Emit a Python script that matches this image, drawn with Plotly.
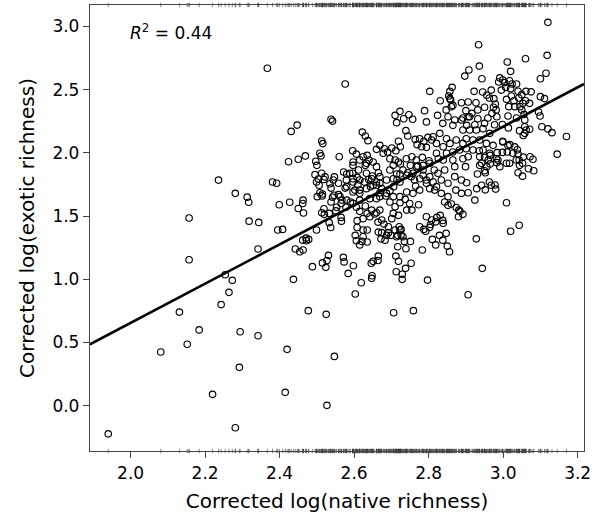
import plotly.graph_objects as go

# ---- data ----
# Sparse low / left outliers
xa = [1.94, 2.081, 2.131, 2.152, 2.157, 2.157, 2.184, 2.22, 2.236, 2.243, 2.254, 2.264, 2.273,
      2.281, 2.281, 2.292, 2.294, 2.313, 2.317, 2.318, 2.342, 2.342, 2.344, 2.367, 2.381, 2.392,
      2.395, 2.399, 2.408, 2.415, 2.42, 2.424, 2.427, 2.431, 2.437, 2.442, 2.447, 2.45, 2.45]
ya = [-0.222, 0.425, 0.741, 0.486, 1.155, 1.485, 0.60, 0.09, 1.785, 0.80, 1.036, 0.897, 0.992,
      -0.174, 1.68, 0.304, 0.585, 1.65, 1.61, 1.46, 0.554, 1.24, 1.45, 2.67, 1.77, 1.76,
      1.39, 1.59, 1.395, 0.106, 0.446, 1.93, 1.61, 2.17, 1.0, 1.24, 2.22, 1.95, 1.56]

# Lower part of the cloud
xb = [2.463, 2.463, 2.462, 2.472, 2.478, 2.499, 2.488, 2.515, 2.524, 2.531, 2.571, 2.584, 2.598,
      2.619, 2.603, 2.646, 2.651, 2.647, 2.648, 2.713, 2.729, 2.738, 2.753, 2.797, 2.944, 2.906,
      2.477, 2.525, 2.706, 2.759, 2.547, 2.527,
      2.603, 2.606, 2.621, 2.635, 2.624, 2.665, 2.672, 2.687, 2.683, 2.692, 2.699, 2.71, 2.726,
      2.726, 2.717, 2.751, 2.717, 2.739, 2.712, 2.729, 2.783, 2.81, 2.608, 2.624, 2.635, 2.665,
      2.674, 2.68, 2.692, 2.721, 2.735, 2.776, 2.787, 2.794, 2.808, 2.773,
      2.527, 2.573, 2.615, 2.664, 2.719, 2.856, 2.819, 2.838, 2.792, 2.805, 2.819, 2.838, 2.892,
      2.852, 2.874,
      2.85, 2.829, 2.847, 2.928, 2.831, 2.822, 2.843, 2.861, 2.884, 2.881, 3.009, 3.043, 3.02,
      2.839, 2.714, 2.731, 2.723, 2.88, 2.803]
yb = [1.627, 1.232, 1.31, 1.305, 1.316, 1.39, 1.10, 1.13, 1.095, 1.19, 1.174, 1.047, 1.107,
      0.973, 0.884, 1.127, 1.142, 1.008, 1.028, 1.06, 1.0, 1.087, 1.127, 0.994, 1.087, 0.878,
      0.752, 0.723, 0.736, 0.752, 0.39, 0.003,
      1.348, 1.305, 1.30, 1.295, 1.337, 1.184, 1.32, 1.348, 1.31, 1.369, 1.348, 1.39, 1.395,
      1.353, 1.348, 1.30, 1.258, 1.242, 1.184, 1.04, 1.232, 1.316, 1.41, 1.39, 1.39, 1.374,
      1.369, 1.437, 1.416, 1.416, 1.30, 1.416, 1.395, 1.495, 1.469, 1.59,
      1.149, 1.138, 1.272, 1.149, 1.143, 1.218, 1.272, 1.31, 1.38, 1.434, 1.455, 1.466, 1.514,
      1.585, 1.568,
      1.263, 1.348, 1.364, 1.32, 1.506, 1.49, 1.612, 1.596, 1.538, 1.548, 1.606, 1.428, 1.38,
      1.443, 1.337, 1.337, 1.39, 1.495, 1.411]

# Middle-left of the cloud
xc = [2.495, 2.513, 2.519, 2.499, 2.506, 2.508, 2.515, 2.501, 2.538, 2.544, 2.558, 2.576, 2.546,
      2.558, 2.567, 2.538, 2.519, 2.513, 2.533, 2.553, 2.565, 2.565, 2.578, 2.59, 2.533, 2.537,
      2.58, 2.596, 2.608, 2.597, 2.61, 2.602, 2.615, 2.606, 2.615, 2.63, 2.635, 2.647, 2.655,
      2.608, 2.624, 2.642, 2.66, 2.669,
      2.628, 2.639, 2.649, 2.665, 2.644, 2.66, 2.674, 2.669, 2.685, 2.696, 2.706, 2.715, 2.723,
      2.744, 2.753, 2.762, 2.765, 2.776, 2.794, 2.803, 2.785, 2.696, 2.71, 2.723, 2.737, 2.749,
      2.741, 2.755, 2.705, 2.719, 2.701, 2.664, 2.674,
      2.5, 2.511, 2.516, 2.542, 2.504, 2.522, 2.535, 2.547, 2.462, 2.464, 2.514, 2.542, 2.52,
      2.551, 2.566, 2.471, 2.454]
yc = [1.828, 1.839, 1.79, 1.77, 1.744, 1.685, 1.675, 1.654, 1.722, 1.786, 1.76, 1.722, 1.665,
      1.67, 1.627, 1.612, 1.558, 1.527, 1.522, 1.57, 1.60, 1.49, 1.57, 1.612, 1.448, 1.41,
      1.833, 1.839, 1.807, 1.77, 1.748, 1.706, 1.68, 1.57, 1.538, 1.58, 1.522, 1.548, 1.517,
      1.464, 1.48, 1.495, 1.527, 1.548,
      1.77, 1.79, 1.817, 1.843, 1.733, 1.744, 1.717, 1.685, 1.659, 1.70, 1.733, 1.786, 1.833,
      1.843, 1.812, 1.786, 1.738, 1.706, 1.76, 1.812, 1.823, 1.612, 1.574, 1.606, 1.633, 1.60,
      1.548, 1.548, 1.522, 1.506, 1.48, 1.453, 1.469,
      1.902, 1.977, 2.074, 2.252, 1.794, 1.81, 1.756, 1.81, 1.60, 1.525, 1.66, 1.649, 1.514,
      1.541, 1.46, 1.326, 1.218]

# Upper-left part of the cloud
xd = [2.576, 2.538, 2.513, 2.469, 2.497, 2.508, 2.56, 2.622, 2.63, 2.637, 2.596, 2.606, 2.615,
      2.597, 2.635, 2.64, 2.63, 2.66, 2.669, 2.681, 2.69, 2.701, 2.712, 2.724, 2.71, 2.723,
      2.714, 2.733, 2.747, 2.757, 2.719, 2.739, 2.744, 2.789, 2.794, 2.803, 2.764, 2.776, 2.787,
      2.798, 2.808, 2.769, 2.781, 2.794, 2.71, 2.724, 2.74, 2.755, 2.767, 2.783, 2.801, 2.751,
      2.771, 2.785]
yd = [2.545, 2.266, 2.094, 1.976, 1.934, 1.997, 1.97, 2.165, 2.134, 2.097, 2.017, 1.991, 1.944,
      1.902, 1.981, 1.944, 1.902, 2.028, 2.06, 2.033, 2.007, 2.039, 2.017, 2.049, 2.297, 2.329,
      2.239, 2.27, 2.302, 2.266, 2.092, 2.176, 2.134, 2.334, 2.245, 2.487, 2.107, 2.112, 2.092,
      2.123, 2.102, 2.065, 2.049, 2.044, 1.944, 1.912, 1.954, 1.97, 1.944, 1.965, 1.938, 1.902,
      1.896, 1.902]

# Dense centre of the cloud
xe = [2.597, 2.624, 2.633, 2.651, 2.66, 2.612, 2.588, 2.572, 2.579, 2.597, 2.615, 2.633, 2.647,
      2.66, 2.669, 2.678, 2.696, 2.705, 2.719, 2.696, 2.714, 2.731, 2.767, 2.785, 2.803, 2.815,
      2.826, 2.58, 2.597, 2.615, 2.633, 2.651, 2.669, 2.687, 2.705, 2.723, 2.741, 2.758, 2.776,
      2.794, 2.812, 2.821, 2.803, 2.758, 2.741, 2.723, 2.705, 2.687, 2.669, 2.66, 2.642, 2.615,
      2.597, 2.58, 2.562]
ye = [1.928, 1.97, 1.918, 1.928, 1.891, 1.865, 1.839, 1.849, 1.786, 1.796, 1.786, 1.839, 1.796,
      1.77, 1.812, 1.997, 1.954, 1.902, 1.928, 1.865, 1.833, 1.865, 1.891, 1.865, 1.918, 1.865,
      1.954, 1.733, 1.691, 1.706, 1.717, 1.744, 1.76, 1.786, 1.796, 1.77, 1.823, 1.839, 1.796,
      1.786, 1.77, 1.733, 1.717, 1.68, 1.691, 1.654, 1.654, 1.68, 1.654, 1.638, 1.638, 1.627,
      1.601, 1.627, 1.654]

# Upper-right part of the cloud
xf = [3.12, 2.934, 3.118, 3.06, 3.011, 2.936, 2.908, 2.897, 3.02, 3.115, 3.10, 2.943, 2.991,
      2.999, 2.988, 3.004, 3.017, 3.024, 3.036, 3.007, 3.02, 2.863, 2.857, 2.854, 2.922, 2.945,
      2.956, 2.968, 2.963, 2.975, 2.979, 2.974, 2.981, 2.97, 2.995, 3.009, 3.022, 3.029, 3.042,
      3.05, 3.061, 3.015, 3.031, 3.045, 3.10, 2.831, 2.847, 2.861, 2.859, 2.888, 2.906, 2.927,
      2.90, 2.916, 2.932, 2.95, 3.05, 3.095, 3.099, 2.824, 2.852, 2.87, 2.888, 2.906, 2.932,
      2.959, 2.983, 3.013, 3.036, 3.058, 3.104, 2.838, 2.865, 2.902, 2.924, 2.95, 2.977, 3.058,
      3.17, 3.145, 3.12, 3.131, 3.111, 3.054, 3.058, 3.071, 3.08, 3.052, 3.082, 3.052, 3.054,
      3.031, 3.038, 3.013, 2.998, 3.009, 2.978, 2.98, 2.952, 2.95, 2.956, 2.965, 2.983, 2.998,
      3.014, 3.056, 3.071, 3.06, 3.075, 3.04,
      3.072, 3.068, 3.04, 3.043, 3.04, 2.906, 2.924, 2.929, 2.942, 2.963, 2.968, 2.984, 2.999,
      3.011, 3.018, 2.986, 2.965, 2.95, 2.936, 2.942, 2.931, 2.952,
      2.834, 2.852, 2.87, 2.888, 2.902, 2.873, 2.888, 2.899, 2.906, 2.87, 2.843, 2.825, 2.816,
      2.834, 2.852,
      2.857, 2.865, 2.892, 2.91, 2.892, 2.91, 2.928, 2.946, 2.964,
      2.812, 2.83, 2.848, 2.821, 2.839, 2.857, 2.874, 2.892, 2.901, 2.919, 2.821, 2.848, 2.865,
      2.883, 2.901, 2.919, 2.839, 2.865, 2.892,
      2.999, 3.026, 3.035, 3.017, 3.044, 3.044, 3.062, 3.053,
      2.937, 2.955, 2.973, 2.946, 2.964, 2.937, 2.96, 2.937, 2.982, 2.991]
yf = [3.033, 2.856, 2.772, 2.745, 2.719, 2.687, 2.656, 2.608, 2.645, 2.63, 2.587, 2.587, 2.593,
      2.577, 2.561, 2.556, 2.571, 2.545, 2.545, 2.519, 2.508, 2.519, 2.487, 2.45, 2.487, 2.482,
      2.456, 2.497, 2.434, 2.429, 2.387, 2.361, 2.34, 2.313, 2.497, 2.424, 2.45, 2.413, 2.434,
      2.461, 2.487, 2.366, 2.366, 2.366, 2.445, 2.413, 2.34, 2.366, 2.419, 2.397, 2.403, 2.397,
      2.334, 2.313, 2.34, 2.361, 2.34, 2.324, 2.292, 2.297, 2.286, 2.26, 2.26, 2.286, 2.27,
      2.276, 2.286, 2.292, 2.276, 2.26, 2.207, 2.234, 2.218, 2.218, 2.223, 2.234, 2.223, 2.207,
      2.13, 1.99, 2.19, 2.16, 2.43, 2.138, 2.155, 2.187, 1.95, 1.816, 1.859, 1.918, 1.967,
      2.048, 2.025, 2.058, 2.004, 1.918, 1.746, 1.714, 1.708, 1.859, 1.891, 1.913, 1.923, 2.225,
      2.198, 2.305, 2.392, 2.413, 2.483, 2.488,
      1.97, 1.875, 1.991, 1.944, 1.843, 1.685, 1.627, 1.717, 1.744, 1.77, 1.744, 2.002, 2.086,
      2.007, 2.065, 1.944, 1.981, 1.965, 2.017, 1.918, 1.833, 1.843,
      1.786, 1.76, 1.812, 1.786, 1.764, 1.706, 1.68, 1.891, 1.97, 1.891, 1.865, 1.839, 1.706,
      1.68, 1.654,
      2.429, 2.376, 2.276, 2.286, 2.181, 2.181, 2.181, 2.192, 2.155,
      2.128, 2.155, 2.112, 2.075, 2.049, 2.075, 2.102, 2.075, 2.112, 2.102, 1.997, 1.997, 2.007,
      2.023, 2.033, 2.023, 1.944, 1.944, 1.954,
      2.092, 1.997, 1.944, 1.918, 1.902, 2.176, 2.181, 2.392,
      2.102, 2.075, 2.06, 2.023, 1.997, 1.97, 1.944, 1.902, 1.954, 1.891]

# Fitted regression line
fit_intercept = -2.451
fit_slope = 1.553
r_squared_label = "0.44"

# Axis settings
x_range = [1.891, 3.217]
y_range = [-0.358, 3.17]
x_ticks = [2.0, 2.2, 2.4, 2.6, 2.8, 3.0, 3.2]
y_ticks = [0.0, 0.5, 1.0, 1.5, 2.0, 2.5, 3.0]
x_title = "Corrected log(native richness)"
y_title = "Corrected log(exotic richness)"

x_native = xa + xb + xc + xd + xe + xf
y_exotic = ya + yb + yc + yd + ye + yf

FONT = "DejaVu Sans, Liberation Sans, Arial, sans-serif"

fig = go.Figure()

fig.add_trace(go.Scatter(
    x=x_native, y=y_exotic, mode="markers",
    marker=dict(symbol="circle-open", size=6.5, color="black", line=dict(width=1.15, color="black")),
    hoverinfo="x+y", showlegend=False,
))

# rug marks along the bottom and top axes
for yy in (y_range[0], y_range[1]):
    fig.add_trace(go.Scatter(
        x=x_native, y=[yy] * len(x_native), mode="markers",
        marker=dict(symbol="line-ns-open", size=3, color="#333",
                    line=dict(width=0.6, color="#333")),
        cliponaxis=False, hoverinfo="skip", showlegend=False,
    ))

line_x = list(x_range)
line_y = [fit_intercept + fit_slope * v for v in line_x]
fig.add_trace(go.Scatter(
    x=line_x, y=line_y, mode="lines",
    line=dict(color="black", width=2.6), hoverinfo="skip", showlegend=False,
))

fig.add_annotation(
    xref="paper", yref="paper", x=0.077, y=0.939, xanchor="left", yanchor="middle",
    text="<i>R</i><sup>2</sup> = " + r_squared_label, showarrow=False,
    font=dict(family=FONT, size=17, color="black"),
)

axis_common = dict(
    showgrid=False, zeroline=False, showline=True, linecolor="#444", linewidth=1.3,
    mirror=True, ticks="outside", ticklen=6, tickwidth=1, tickcolor="#444",
    tickfont=dict(family=FONT, size=17, color="black"), automargin=False,
)

fig.update_xaxes(range=x_range, tickvals=x_ticks, ticktext=[f"{v:.1f}" for v in x_ticks],
                 title=dict(text=x_title, standoff=12,
                            font=dict(family=FONT, size=20, color="black")),
                 **axis_common)
fig.update_yaxes(range=y_range, tickvals=y_ticks, ticktext=[f"{v:.1f}" for v in y_ticks],
                 title=dict(text=y_title, standoff=12,
                            font=dict(family=FONT, size=20, color="black")),
                 **axis_common)

fig.update_layout(
    width=596, height=518,
    margin=dict(l=90, r=12, t=5, b=67),
    plot_bgcolor="white", paper_bgcolor="white",
)

fig.write_html("out.html",
               config={"displayModeBar": False},
               post_script="document.body.style.margin='0px';document.body.style.overflow='hidden';")
